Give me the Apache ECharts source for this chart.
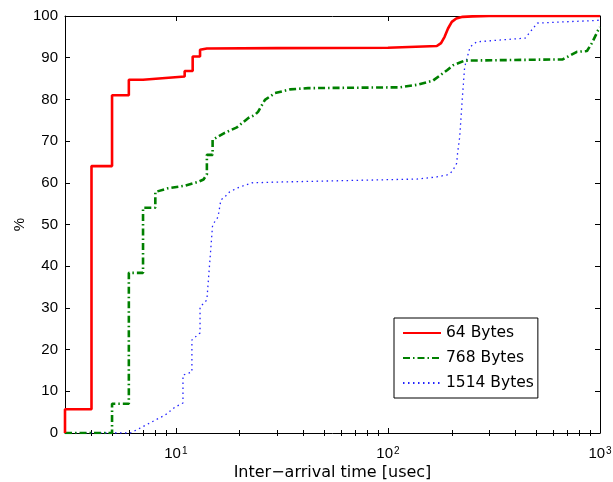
<!DOCTYPE html>
<html><head><meta charset="utf-8">
<script src="https://cdn.jsdelivr.net/npm/echarts@6/dist/echarts.min.js"></script>
<style>html,body{margin:0;padding:0;background:#fff}#c{width:613px;height:482px}</style>
</head><body><div id="c"></div>
<script>
const seriesNames = ['64 Bytes', '768 Bytes', '1514 Bytes'];

const redX = [3, 3, 4, 4, 5, 5, 6, 6, 7, 7, 11, 11, 12, 12, 13, 13, 14, 30, 100, 170, 178, 185, 192, 200, 210, 225, 250, 300, 1000];
const redY = [0, 5.7, 5.7, 64, 64, 81, 81, 84.7, 84.7, 85.1, 85.5, 86.8, 86.8, 90.3, 90.3, 91.9, 92.2, 92.3, 92.4, 92.8, 93.5, 95, 97, 98.6, 99.4, 99.8, 99.9, 100, 100];

const greenX = [3, 5, 5, 6, 6, 7, 7, 8, 8, 9.2, 11, 12.7, 13.5, 14, 14, 14.9, 14.9, 17, 19.4, 21.9, 23.6, 24.4, 26.3, 29.3, 34.5, 42, 114, 137, 163, 190, 203, 230, 667, 778, 868, 916, 980, 1000];
const greenY = [0, 0, 7, 7, 38.4, 38.4, 54, 54, 57.8, 58.7, 59.3, 60.2, 60.8, 62, 66.7, 66.7, 70.3, 72, 73.3, 75.5, 76.3, 77, 79.9, 81.5, 82.4, 82.7, 82.9, 83.5, 84.5, 87, 88.2, 89.3, 89.6, 91.4, 91.6, 93.5, 96.6, 97.3];

const blueX = [3, 6.1, 6.8, 8, 8.9, 9.9, 10.8, 10.8, 11.9, 11.9, 13, 13, 14, 14.5, 14.9, 15.8, 16.3, 17, 17.9, 19.6, 22.8, 31.9, 137, 170, 190, 197, 203, 211, 213, 218, 224, 230, 244, 262, 444, 469, 506, 925, 1000];
const blueY = [0, 0, 1.2, 3.1, 4.3, 6.2, 7.2, 13.9, 14.6, 22.3, 24, 30.2, 31.9, 42, 49.9, 51.8, 55.9, 56.6, 57.8, 58.8, 60, 60.2, 60.9, 61.4, 61.9, 62.3, 63.1, 64.7, 67.1, 71, 79.9, 87.8, 92.6, 93.8, 94.7, 96.2, 98.3, 98.9, 99];

const xMajorTicks = [10, 100, 1000];
const xMinorTicks = [4, 5, 6, 7, 8, 9, 20, 30, 40, 50, 60, 70, 80, 90, 200, 300, 400, 500, 600, 700, 800, 900];
const yTicks = [0, 10, 20, 30, 40, 50, 60, 70, 80, 90, 100];
const xRange = [3, 1000];

const L = Math.log10;
const pairs = (xs, ys) => xs.map((v, i) => [L(v), ys[i]]);
const FONT = 'Liberation Sans, Arial, Helvetica, sans-serif';
const FONT2 = 'DejaVu Sans, Liberation Sans, sans-serif';

function xAx(pos, ticks, len, extra) {
  return Object.assign({
    type: 'value', position: pos, min: L(xRange[0]), max: L(xRange[1]),
    splitLine: { show: false },
    axisLine: { show: false },
    axisTick: { show: true, inside: true, length: len, customValues: ticks.map(L), lineStyle: { color: '#000', width: 1 } },
    axisLabel: { show: false }
  }, extra || {});
}

const chart = echarts.init(document.getElementById('c'), null, { renderer: 'canvas' });
chart.setOption({
  backgroundColor: '#fff',
  animation: false,
  textStyle: { fontFamily: FONT },
  grid: { left: 65, right: 13, top: 16, bottom: 49, containLabel: false, outerBoundsMode: 'none' },
  legend: {
    orient: 'vertical', left: 394, top: 318,
    data: seriesNames,
    itemWidth: 38, itemHeight: 14, itemGap: 9,
    padding: [7, 4, 7, 8],
    borderColor: '#000', borderWidth: 1, backgroundColor: '#fff', borderRadius: 0,
    itemStyle: { opacity: 0 },
    textStyle: { fontSize: 15.5, color: '#000', fontFamily: FONT2 }
  },
  xAxis: [
    xAx('bottom', xMajorTicks, 5, {
      axisLine: { show: true, onZero: false, lineStyle: { color: '#000', width: 1 } },
      name: 'Inter\u2212arrival time [usec]', nameLocation: 'middle', nameGap: 32, nameMoveOverlap: false,
      nameTextStyle: { fontSize: 16, color: '#000', fontFamily: FONT2 },
      axisLabel: {
        show: true, customValues: xMajorTicks.map(L), margin: 13, color: '#000',
        formatter: v => '{b|10}{s|' + Math.round(v) + '}',
        rich: {
          b: { fontSize: 15, lineHeight: 15, verticalAlign: 'bottom', color: '#000', fontFamily: FONT },
          s: { fontSize: 10, lineHeight: 10, padding: [0, 0, 10, 1], verticalAlign: 'top', color: '#000', fontFamily: FONT }
        }
      }
    }),
    xAx('bottom', xMinorTicks, 3),
    xAx('top', xMajorTicks, 5, { axisLine: { show: true, onZero: false, lineStyle: { color: '#000', width: 1 } } }),
    xAx('top', xMinorTicks, 3)
  ],
  yAxis: [
    {
      type: 'value', position: 'left', min: 0, max: 100, interval: 10,
      splitLine: { show: false },
      axisLine: { show: true, onZero: false, lineStyle: { color: '#000', width: 1 } },
      axisTick: { show: true, inside: true, length: 5, lineStyle: { color: '#000' } },
      axisLabel: { fontSize: 15, color: '#000', margin: 7, fontFamily: FONT },
      name: '%', nameLocation: 'middle', nameGap: 38, nameRotate: 90, nameMoveOverlap: false,
      nameTextStyle: { fontSize: 15, color: '#000', fontFamily: FONT }
    },
    {
      type: 'value', position: 'right', min: 0, max: 100, interval: 10,
      splitLine: { show: false },
      axisLine: { show: true, onZero: false, lineStyle: { color: '#000', width: 1 } },
      axisTick: { show: true, inside: true, length: 5, lineStyle: { color: '#000' } },
      axisLabel: { show: false }
    }
  ],
  series: [
    {
      name: seriesNames[0], type: 'line', data: pairs(redX, redY), showSymbol: false, symbol: 'none',
      lineStyle: { color: '#ff0000', width: 2.6, type: 'solid' }, itemStyle: { color: '#ff0000' }, z: 5
    },
    {
      name: seriesNames[1], type: 'line', data: pairs(greenX, greenY), showSymbol: false, symbol: 'none',
      lineStyle: { color: '#008000', width: 2.6, type: [7, 3, 1.5, 3] }, itemStyle: { color: '#008000' }, z: 4
    },
    {
      name: seriesNames[2], type: 'line', data: pairs(blueX, blueY), showSymbol: false, symbol: 'none',
      lineStyle: { color: '#2222ff', width: 1.3, type: [1.5, 3.5] }, itemStyle: { color: '#2222ff' }, z: 3
    }
  ]
});
</script></body></html>
